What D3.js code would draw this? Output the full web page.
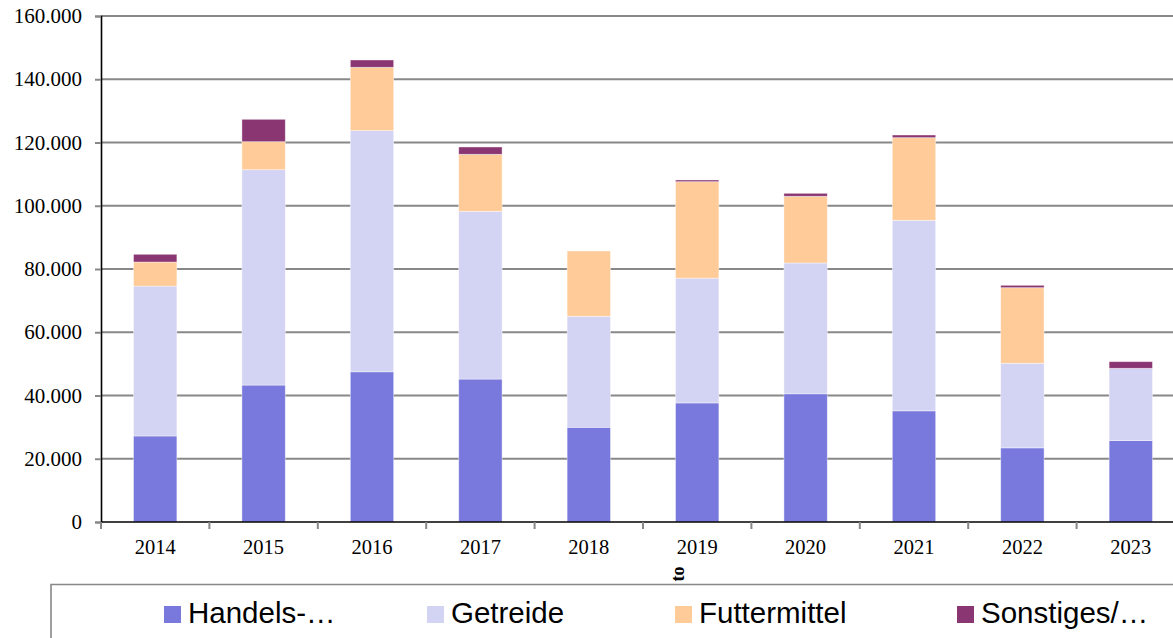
<!DOCTYPE html>
<html>
<head>
<meta charset="utf-8">
<script src="https://cdn.jsdelivr.net/npm/d3@7"></script>
<style>
  html, body { margin: 0; padding: 0; background: #fff; overflow: hidden; }
  svg { display: block; }
</style>
</head>
<body>
<svg id="chart" width="1173" height="638"></svg>
<script>
// Umschlag in Tonnen je Jahr und Gütergruppe
const years = ["2014", "2015", "2016", "2017", "2018", "2019", "2020", "2021", "2022", "2023"];
const handels     = [27200, 43300, 47500, 45200, 29950, 37650, 40550, 35150, 23450, 25750];
const getreide    = [47400, 68100, 76250, 53050, 35100, 39450, 41350, 60250, 26750, 22850];
const futtermittel = [7600, 8860, 20030, 18020, 20640, 30500, 21090, 26130, 23890, 0];
const sonstiges   = [2450, 7070, 2310, 2310, 0, 540, 940, 840, 750, 2100];

const seriesKeys   = ["handels", "getreide", "futtermittel", "sonstiges"];
const seriesLabels = ["Handels-…", "Getreide", "Futtermittel", "Sonstiges/…"];
const seriesColors = ["#7979DD", "#D3D3F3", "#FFCB98", "#8A3672"];
const yTicks = [0, 20000, 40000, 60000, 80000, 100000, 120000, 140000, 160000];

const rows = years.map((y, i) => ({
  year: y,
  handels: handels[i],
  getreide: getreide[i],
  futtermittel: futtermittel[i],
  sonstiges: sonstiges[i]
}));

const svg = d3.select("#chart");
const plot = { left: 101, right: 1185, top: 16, bottom: 522 };

const x = d3.scaleBand().domain(years).range([plot.left, plot.right]).paddingInner(0.6).paddingOuter(0.3);
const xTickScale = d3.scaleBand().domain(years).range([plot.left, plot.right]);
const y = d3.scaleLinear().domain([0, 160000]).range([plot.bottom, plot.top]);

const de = d3.formatLocale({ decimal: ",", thousands: ".", grouping: [3], currency: ["", " €"] });
const fmt = de.format(",.0f");

// horizontal grid lines
svg.append("g")
  .selectAll("line")
  .data(yTicks.filter(d => d > 0))
  .join("line")
  .attr("x1", plot.left).attr("x2", 1173)
  .attr("y1", d => y(d)).attr("y2", d => y(d))
  .attr("stroke", "#888").attr("stroke-width", 2);

// stacked bars
const stack = d3.stack().keys(seriesKeys);
const layers = stack(rows);
svg.append("g")
  .selectAll("g")
  .data(layers)
  .join("g")
  .attr("fill", (d, i) => seriesColors[i])
  .selectAll("rect")
  .data(d => d.filter(s => s[1] - s[0] > 0))
  .join("rect")
  .attr("x", d => x(d.data.year))
  .attr("width", x.bandwidth())
  .attr("y", d => y(d[1]))
  .attr("height", d => y(d[0]) - y(d[1]))
  .attr("stroke", "#fff").attr("stroke-opacity", 0.5).attr("stroke-width", 0.8);

// y axis
const yAxis = svg.append("g")
  .attr("transform", `translate(${plot.left},0)`)
  .call(d3.axisLeft(y).tickValues(yTicks).tickFormat(d => fmt(d)).tickSize(6).tickPadding(13));
yAxis.select(".domain").attr("stroke", "#000").attr("stroke-width", 1.6);
yAxis.selectAll(".tick line").attr("stroke", "#888").attr("stroke-width", 2);
yAxis.selectAll(".tick text")
  .attr("font-family", "'Liberation Serif', 'Times New Roman', serif")
  .attr("font-size", "21px").attr("fill", "#000");

// x axis (ticks on category boundaries)
const xg = svg.append("g").attr("transform", `translate(0,${plot.bottom})`);
xg.append("line")
  .attr("x1", plot.left).attr("x2", 1173).attr("y1", 0).attr("y2", 0)
  .attr("stroke", "#000").attr("stroke-width", 1.6);
const bounds = years.map(d => xTickScale(d)).concat([plot.right]);
xg.selectAll("line.tk")
  .data(bounds)
  .join("line").attr("class", "tk")
  .attr("x1", d => d).attr("x2", d => d).attr("y1", 0).attr("y2", 7)
  .attr("stroke", "#888").attr("stroke-width", 2);
xg.selectAll("text")
  .data(years)
  .join("text")
  .attr("x", d => xTickScale(d) + xTickScale.bandwidth() / 2)
  .attr("y", 32)
  .attr("text-anchor", "middle")
  .attr("font-family", "'Liberation Serif', 'Times New Roman', serif")
  .attr("font-size", "20.5px").attr("fill", "#000")
  .text(d => d);

// axis unit label, reading upwards
svg.append("text")
  .attr("transform", "translate(684,574) rotate(-90)")
  .attr("text-anchor", "middle")
  .attr("font-family", "'Liberation Serif', 'Times New Roman', serif")
  .attr("font-weight", "bold").attr("font-size", "18px").attr("fill", "#000")
  .text("to");

// legend
const legend = svg.append("g");
legend.append("path")
  .attr("d", "M51,640 L51,584.5 L1180,584.5")
  .attr("fill", "none").attr("stroke", "#888").attr("stroke-width", 1.6);
const legendX = [164, 427, 675, 957];
const items = legend.selectAll("g.item")
  .data(seriesLabels)
  .join("g").attr("class", "item")
  .attr("transform", (d, i) => `translate(${legendX[i]},0)`);
items.append("rect")
  .attr("x", 0).attr("y", 606).attr("width", 17).attr("height", 17)
  .attr("fill", (d, i) => seriesColors[i]);
items.append("text")
  .attr("x", 24).attr("y", 623)
  .attr("font-family", "'Liberation Sans', Arial, sans-serif")
  .attr("font-size", "29.5px").attr("fill", "#000")
  .text(d => d);
</script>
</body>
</html>
